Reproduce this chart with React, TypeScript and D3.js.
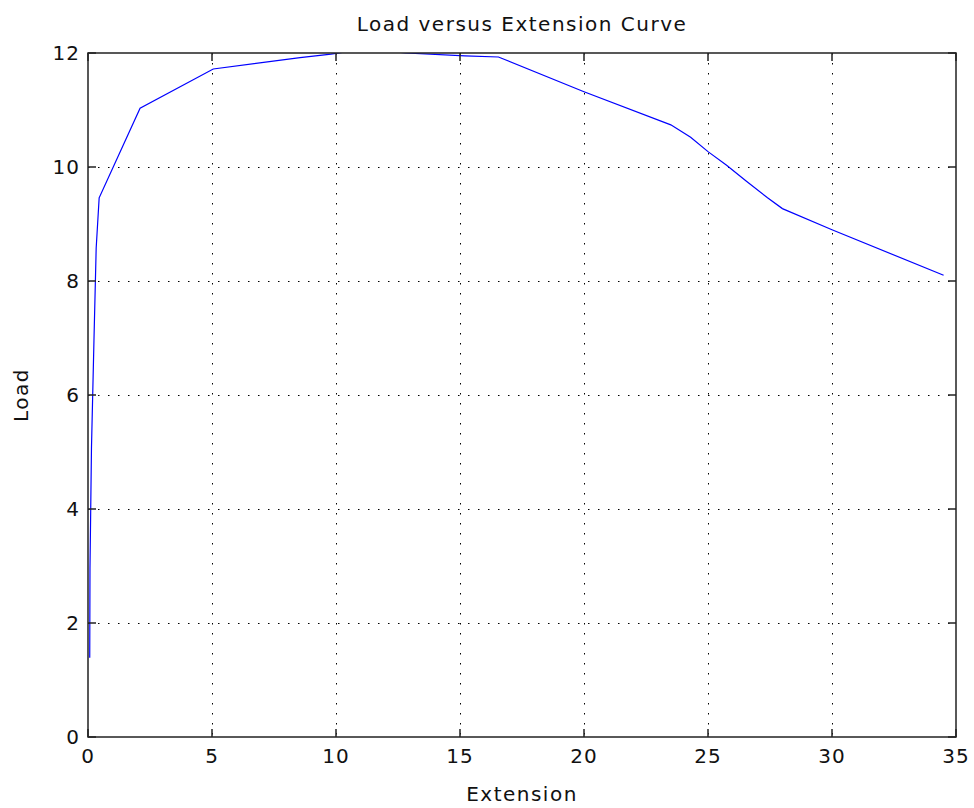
import React from "react";
import * as d3 from "d3";

const extension = [0.07, 0.08, 0.14, 0.24, 0.33, 0.45, 2.1, 5.05, 8.55, 9.8, 11.3, 12.8, 15.2, 16.55, 20.0, 23.5, 24.3, 25.0, 25.75, 26.55, 27.4, 28.0, 30.0, 34.5];
const load = [1.39, 2.96, 5.07, 6.95, 8.58, 9.46, 11.03, 11.72, 11.92, 11.98, 12.08, 12.0, 11.95, 11.93, 11.32, 10.74, 10.52, 10.27, 10.03, 9.75, 9.46, 9.27, 8.9, 8.1];
const xTicks = [0, 5, 10, 15, 20, 25, 30, 35];
const yTicks = [0, 2, 4, 6, 8, 10, 12];
const title = "Load versus Extension Curve";
const xLabel = "Extension";
const yLabel = "Load";

const W = 974, H = 808;
const L = 88, T = 53, R = 956, B = 737;
const FONT = "'DejaVu Sans', sans-serif";

export default function App() {
  const x = d3.scaleLinear().domain([0, 35]).range([L, R]);
  const y = d3.scaleLinear().domain([0, 12]).range([B, T]);
  const pts = extension.map((e, i) => [e, load[i]] as [number, number]);
  const line = d3.line<[number, number]>().x(d => x(d[0])).y(d => y(d[1]));
  const tk = 8;
  return (
    <svg width={W} height={H} style={{ position: "fixed", left: 0, top: 0, background: "#fff" }}>
      <rect x={0} y={0} width={W} height={H} fill="#fff" />
      <defs>
        <clipPath id="plot"><rect x={L} y={T} width={R - L} height={B - T} /></clipPath>
      </defs>
      {xTicks.slice(1, -1).map(t => (
        <line key={"gx" + t} x1={Math.round(x(t)) + 0.5} x2={Math.round(x(t)) + 0.5} y1={T} y2={B} stroke="#000" strokeWidth={1} strokeDasharray="1.5 8.5" />
      ))}
      {yTicks.slice(1, -1).map(t => (
        <line key={"gy" + t} y1={Math.round(y(t)) + 0.5} y2={Math.round(y(t)) + 0.5} x1={L} x2={R} stroke="#000" strokeWidth={1} strokeDasharray="1.5 8.5" />
      ))}
      <path d={line(pts) || ""} fill="none" stroke="#0000ff" strokeWidth={1.2} clipPath="url(#plot)" />
      <rect x={L} y={T} width={R - L} height={B - T} fill="none" stroke="#222" strokeWidth={1.5} />
      {xTicks.map(t => (
        <g key={"tx" + t}>
          <line x1={x(t)} x2={x(t)} y1={B} y2={B - tk} stroke="#222" strokeWidth={1.5} />
          <line x1={x(t)} x2={x(t)} y1={T} y2={T + tk} stroke="#222" strokeWidth={1.5} />
          <text x={x(t)} y={763} textAnchor="middle" fontFamily={FONT} fontSize={20} letterSpacing={1} fill="#111">{t}</text>
        </g>
      ))}
      {yTicks.map(t => (
        <g key={"ty" + t}>
          <line x1={L} x2={L + tk} y1={y(t)} y2={y(t)} stroke="#222" strokeWidth={1.5} />
          <line x1={R} x2={R - tk} y1={y(t)} y2={y(t)} stroke="#222" strokeWidth={1.5} />
          <text x={80} y={y(t) + 7} textAnchor="end" fontFamily={FONT} fontSize={20} letterSpacing={1} fill="#111">{t}</text>
        </g>
      ))}
      <text x={(L + R) / 2} y={31} textAnchor="middle" fontFamily={FONT} fontSize={20} letterSpacing={1.5} fill="#111">{title}</text>
      <text x={(L + R) / 2} y={801} textAnchor="middle" fontFamily={FONT} fontSize={20} letterSpacing={1.5} fill="#111">{xLabel}</text>
      <text transform={`translate(28, ${(T + B) / 2}) rotate(-90)`} textAnchor="middle" fontFamily={FONT} fontSize={20} letterSpacing={1.5} fill="#111">{yLabel}</text>
    </svg>
  );
}
